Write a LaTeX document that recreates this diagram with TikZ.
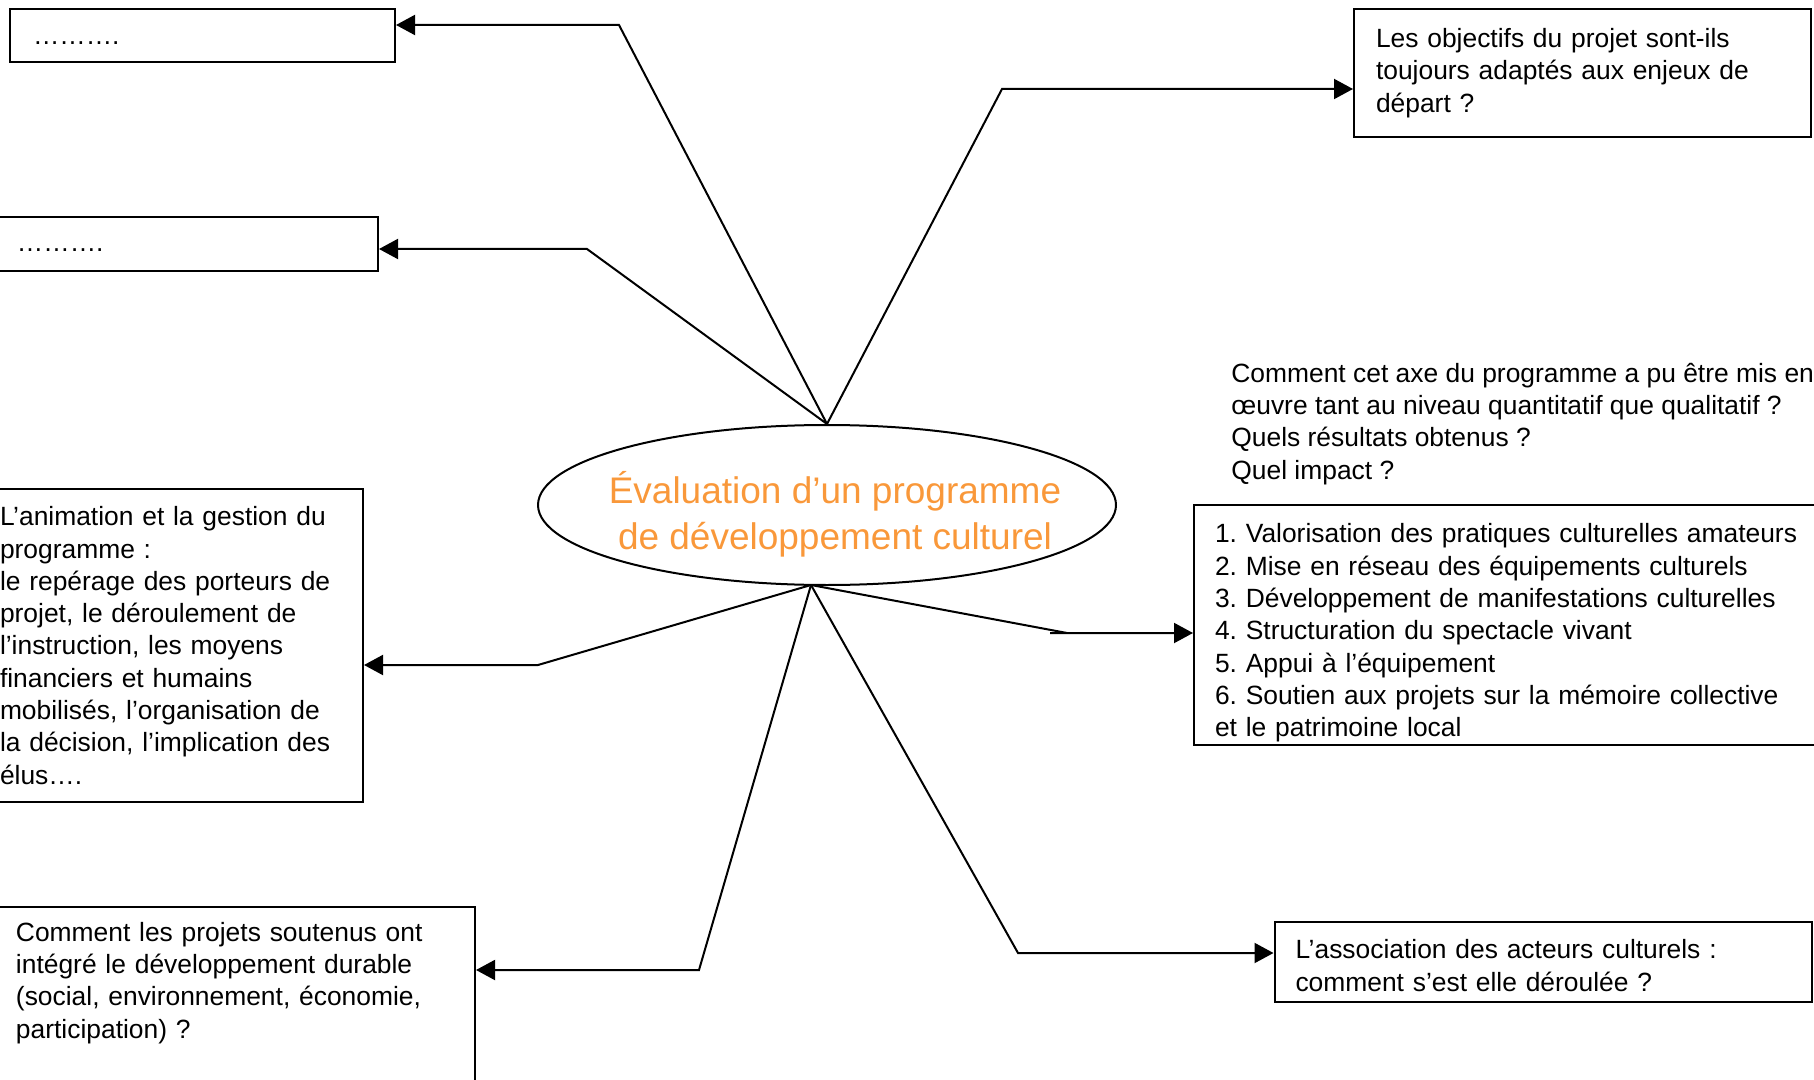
\documentclass[tikz,border=0pt]{standalone}
\usepackage{fontspec}
\setmainfont{Liberation Sans}
\usetikzlibrary{arrows.meta,shapes.geometric}
\definecolor{titreorange}{RGB}{249,152,58}
\frenchspacing

\begin{document}
\begin{tikzpicture}[x=0.5pt,y=-0.5pt,
        boite/.style={draw,line width=1pt,rectangle,align=left,inner ysep=0pt,font=\fontsize{13.2}{16.15}\selectfont},
        fleche/.style={line width=1pt,-{Triangle[length=9.5pt,width=10pt]}}]
                \clip (0,0) rectangle (1814,1080);
                % centre
                \node [draw,ellipse,line width=1pt,minimum width=289pt,minimum height=80pt,inner sep=0pt] (ctr) at (827,505) {};
                \node [text=titreorange,align=center,font=\fontsize{18.5}{23}\selectfont] (titre) at (835,514) {Évaluation d’un programme\\de développement culturel};
                \coordinate (haut) at (ctr.north);
                \coordinate (bas) at (811,585);
                % boites
                \node [boite,minimum width=192.5pt,minimum height=26.5pt,inner xsep=11.5pt,text width=169.5pt] (vide1) at (202.5,35.5) {\raisebox{-4.5pt}[0pt][0pt]{……….}};
                \node [boite,minimum width=190pt,minimum height=27pt,inner xsep=9.5pt,text width=171pt] (vide2) at (188,244) {\raisebox{-4pt}[0pt][0pt]{……….}};
                \node [boite,minimum width=228.5pt,minimum height=64pt,inner xsep=11pt,text width=206.5pt] (objectifs) at (1582.5,73) {Les objectifs du projet sont-ils\\toujours adaptés aux enjeux de\\départ ?};
                \node [anchor=north west,inner sep=0pt,align=left,font=\fontsize{13.2}{16.15}\selectfont] (question) at (1231,362.5) {Comment cet axe du programme a pu être mis en\\œuvre tant au niveau quantitatif que qualitatif ?\\Quels résultats obtenus ?\\Quel impact ?};
                \node [boite,minimum width=318pt,minimum height=120pt,inner xsep=10.5pt,text width=297pt,text height=17.6pt] (axes) at (1512,625) {1. Valorisation des pratiques culturelles amateurs\\2. Mise en réseau des équipements culturels\\3. Développement de manifestations culturelles\\4. Structuration du spectacle vivant\\5. Appui à l’équipement\\6. Soutien aux projets sur la mémoire collective\\et le patrimoine local};
                \node [boite,minimum width=196.5pt,minimum height=156.5pt,inner xsep=15pt,text width=166.5pt] (animation) at (166.5,645.5) {L’animation et la gestion du\\programme :\\le repérage des porteurs de\\projet, le déroulement de\\l’instruction, les moyens\\financiers et humains\\mobilisés, l’organisation de\\la décision, l’implication des\\élus….};
                \node [boite,anchor=north west,inner xsep=8.5pt,inner ysep=7.5pt,text width=221pt,text depth=70pt] (durable) at (-2,906) {Comment les projets soutenus ont\\intégré le développement durable\\(social, environnement, économie,\\participation) ?};
                \node [boite,minimum width=268.5pt,minimum height=40pt,inner xsep=10.5pt,text width=247.5pt,text height=13pt] (acteurs) at (1543,962) {L’association des acteurs culturels :\\comment s’est elle déroulée ?};
                % fleches
                \draw [fleche] (haut) -- (619,25) -- (vide1.east |- 0,25);
                \draw [fleche] (haut) -- (587,249) -- (vide2.east |- 0,249);
                \draw [fleche] (haut) -- (1002,89) -- (objectifs.west |- 0,89);
                \draw [fleche] (bas) -- (1067,633) -- (1050,633) -- (axes.west |- 0,633);
                \draw [fleche] (bas) -- (538,665) -- (animation.east |- 0,665);
                \draw [fleche] (bas) -- (699,970) -- (durable.east |- 0,970);
                \draw [fleche] (bas) -- (1018,953) -- (acteurs.west |- 0,953);
            \end{tikzpicture}
\end{document}
